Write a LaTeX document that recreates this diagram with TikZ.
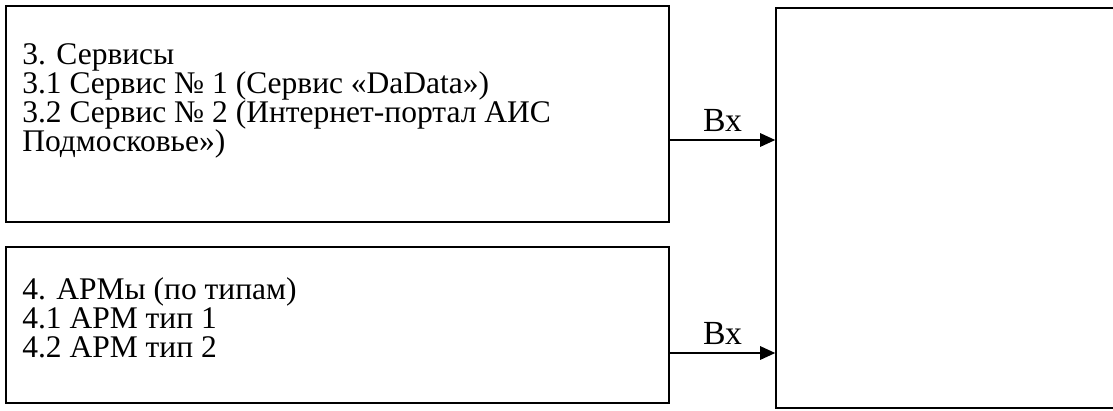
\documentclass[tikz,border=0pt]{standalone}
\usepackage{fontspec}
\setmainfont{Liberation Serif}
\usetikzlibrary{arrows.meta}

\begin{document}
\begin{tikzpicture}[x=0.025cm,y=-0.025cm,
  box/.style={draw,line width=1pt,inner sep=0pt},
  boxtext/.style={align=left,inner sep=0pt,anchor=north west,
    font=\fontsize{22.4pt}{20.8pt}\selectfont},
  flow/.style={-{Triangle[length=3.8mm,width=3.4mm]},line width=1pt},
  tag/.style={font=\fontsize{24pt}{24pt}\selectfont,inner sep=0pt,above=2mm}]

  \useasboundingbox (0,0) rectangle (1113,410);
  \clip (0,0) rectangle (1113,410);

  % left side: sources
  \node[box,minimum width=16.575cm,minimum height=5.4cm] (srv) at (337.5,114) {};
  \node[boxtext] (srvtext) at (22,43) {3. Сервисы\\
    3.1 Сервис № 1 (Сервис «DaData»)\\
    3.2 Сервис № 2 (Интернет-портал АИС\\
    Подмосковье»)};

  \node[box,minimum width=16.575cm,minimum height=3.9cm] (arm) at (337.5,325) {};
  \node[boxtext] (armtext) at (22,277) {4. АРМы (по типам)\\
    4.1 АРМ тип 1\\
    4.2 АРМ тип 2};

  % right side: target (runs off the page)
  \node[box,minimum width=8.725cm,minimum height=10cm] (target) at (950.5,208) {};

  \coordinate (in1) at (target.west |- 0,140);
  \coordinate (in2) at (target.west |- 0,353);

  \draw[flow] (srv.east |- in1) -- node[tag] {Вх} (in1);
  \draw[flow] (arm.east |- in2) -- node[tag] {Вх} (in2);
\end{tikzpicture}
\end{document}
